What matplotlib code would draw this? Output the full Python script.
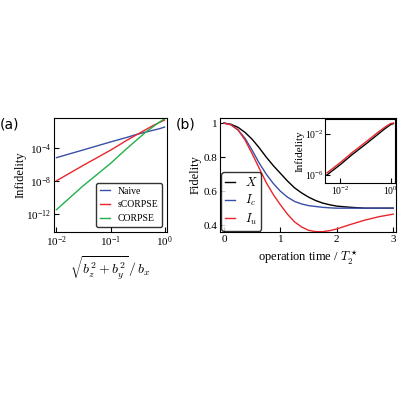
import matplotlib

matplotlib.use("Agg")
import matplotlib.pyplot as plt
import numpy as np

plt.rcParams["font.family"] = "Liberation Serif"
plt.rcParams["mathtext.fontset"] = "cm"

# panel (a): infidelity vs field ratio (log10 values)
ratio = [0.01, 0.03, 0.1, 0.2, 0.3, 0.45, 0.6, 0.8, 1.0]
naive_log = [-5.2, -4.3, -3.3, -2.75, -2.4, -2.1, -1.9, -1.7, -1.5]
scorpse_log = [-8.0, -6.2, -4.3, -3.1, -2.45, -1.8, -1.35, -0.95, -0.65]
corpse_log = [-11.5, -8.7, -5.9, -4.1, -3.1, -2.1, -1.5, -0.9, -0.5]

# panel (b): fidelity vs operation time
op_time = [0, 0.125, 0.25, 0.375, 0.5, 0.625, 0.75, 0.875, 1.0, 1.125, 1.25,
           1.375, 1.5, 1.625, 1.75, 1.875, 2.0, 2.25, 2.5, 2.75, 3.0]
fid_x = [1, 0.993, 0.975, 0.945, 0.905, 0.855, 0.80, 0.75, 0.705, 0.66, 0.62,
         0.59, 0.565, 0.545, 0.53, 0.52, 0.512, 0.505, 0.5, 0.5, 0.5]
fid_ic = [1, 0.99, 0.96, 0.91, 0.84, 0.765, 0.70, 0.645, 0.60, 0.565, 0.54,
          0.525, 0.515, 0.51, 0.505, 0.502, 0.5, 0.5, 0.5, 0.5, 0.5]
fid_iu = [1, 0.99, 0.96, 0.90, 0.82, 0.735, 0.65, 0.58, 0.52, 0.465, 0.42,
          0.39, 0.37, 0.362, 0.362, 0.368, 0.378, 0.405, 0.43, 0.45, 0.465]

# inset: infidelity vs operation time
inset_t = [0.003, 0.01, 0.03, 0.1, 0.3, 0.6, 1.0, 1.3]
inset_red_log = [-5.8, -4.8, -3.8, -2.8, -1.85, -1.3, -0.95, -0.9]
inset_black_log = [-6.0, -5.0, -4.0, -3.0, -2.05, -1.45, -1.05, -0.95]

BLUE, RED, GREEN = "#3a4fa8", "#e8262b", "#22b04a"

fig = plt.figure(figsize=(4, 4), dpi=100)

ax = fig.add_axes([0.135, 0.42, 0.282, 0.285])
ax.plot(ratio, 10 ** np.array(naive_log), color=BLUE, lw=1, label="Naive")
ax.plot(ratio, 10 ** np.array(scorpse_log), color=RED, lw=1, label="sCORPSE")
ax.plot(ratio, 10 ** np.array(corpse_log), color=GREEN, lw=1, label="CORPSE")
ax.set_xscale("log")
ax.set_yscale("log")
ax.set_xlim(0.009, 1.1)
ax.set_ylim(10 ** -14.2, 10 ** -0.4)
ax.set_yticks([1e-12, 1e-8, 1e-4])
ax.minorticks_off()
ax.tick_params(labelsize=8, direction="in", pad=2)
ax.set_ylabel("Infidelity", fontsize=9, labelpad=0)
ax.set_xlabel(r"$\sqrt{b_z^2+b_y^2}\,/\,b_x$", fontsize=10)
ax.legend(fontsize=7, loc="lower right", frameon=True, fancybox=True,
          edgecolor="black", handlelength=1.0, borderpad=0.4)
fig.text(0.0, 0.68, "(a)", fontsize=10, family="DejaVu Sans")

bx = fig.add_axes([0.55, 0.42, 0.44, 0.285])
bx.plot(op_time, fid_x, color="black", lw=1, label=r"$X$")
bx.plot(op_time, fid_ic, color=BLUE, lw=1, label=r"$I_c$")
bx.plot(op_time, fid_iu, color=RED, lw=1, label=r"$I_u$")
bx.set_xlim(-0.07, 3.05)
bx.set_ylim(0.36, 1.03)
bx.set_xticks([0, 1, 2, 3])
bx.set_yticks([0.4, 0.6, 0.8, 1.0])
bx.set_yticklabels(["0.4", "0.6", "0.8", "1"])
bx.tick_params(labelsize=8, direction="in", pad=2)
bx.set_ylabel("Fidelity", fontsize=9, labelpad=1)
bx.set_xlabel(r"operation time / $T_2^\star$", fontsize=9)
bx.legend(fontsize=9, loc="lower left", frameon=True, fancybox=True,
          edgecolor="black", handlelength=0.8, borderpad=0.3, borderaxespad=0.1,
          labelspacing=0.3)
fig.text(0.44, 0.68, "(b)", fontsize=10, family="DejaVu Sans")

ix = fig.add_axes([0.8125, 0.5425, 0.175, 0.16])
ix.plot(inset_t, 10 ** np.array(inset_black_log), color="black", lw=1)
ix.plot(inset_t, 10 ** np.array(inset_red_log), color=RED, lw=1)
ix.set_xscale("log")
ix.set_yscale("log")
ix.set_xlim(0.0025, 1.5)
ix.set_ylim(10 ** -6.8, 10 ** -0.5)
ix.set_xticks([1e-2, 1e0])
ix.set_yticks([1e-6, 1e-2])
ix.minorticks_off()
ix.tick_params(labelsize=7, direction="in", pad=1)
ix.set_ylabel("Infidelity", fontsize=8, labelpad=0)

fig.savefig("out.png", dpi=100)
